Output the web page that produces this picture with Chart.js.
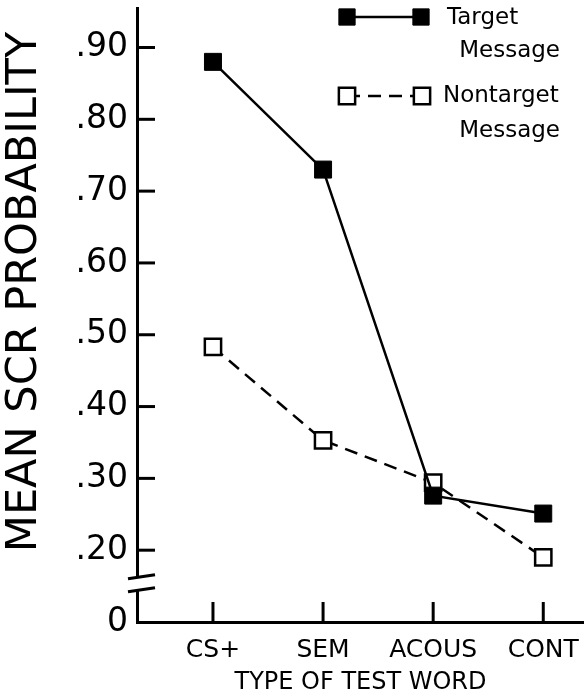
<!DOCTYPE html>
<html>
<head>
<meta charset="utf-8">
<script src="https://cdn.jsdelivr.net/npm/chart.js@4.4.1/dist/chart.umd.min.js"></script>
<style>
  html, body { margin: 0; padding: 0; background: #fff; }
</style>
</head>
<body>
<canvas id="chart" width="584" height="699"></canvas>
<script>
// ---- datos ----
const categories = ['CS+', 'SEM', 'ACOUS', 'CONT'];
const targetValues = [0.88, 0.73, 0.276, 0.251];
const nontargetValues = [0.483, 0.353, 0.294, 0.19];

// el eje está cortado: el "0" se dibuja donde iría 0.10
const yTickValues = [0.1, 0.2, 0.3, 0.4, 0.5, 0.6, 0.7, 0.8, 0.9];
const yTickLabels = ['0', '.20', '.30', '.40', '.50', '.60', '.70', '.80', '.90'];

const yTitle = 'MEAN SCR PROBABILITY';
const xTitle = 'TYPE OF TEST WORD';
const legendText = [['Target', 'Message'], ['Nontarget', 'Message']];

const FONT = 'DejaVu Sans';

/**
 * Marcas hacia adentro, corte del eje, título Y y leyenda
 */
const decorPlugin = {
    id: 'decor',
    afterDraw(chart) {
        const ctx = chart.ctx;
        const xs = chart.scales.x;
        const ys = chart.scales.y;
        const left = chart.chartArea.left;
        const bottom = chart.chartArea.bottom;

        ctx.save();
        ctx.strokeStyle = '#000';
        ctx.lineWidth = 3;
        ctx.lineCap = 'butt';

        // ticks del eje Y (hacia la derecha)
        yTickValues.slice(1).forEach(v => {
            const y = ys.getPixelForValue(v);
            ctx.beginPath();
            ctx.moveTo(left, y);
            ctx.lineTo(left + 18, y);
            ctx.stroke();
        });

        // ticks del eje X (hacia arriba)
        categories.forEach((c, i) => {
            const x = xs.getPixelForValue(i);
            ctx.beginPath();
            ctx.moveTo(x, bottom);
            ctx.lineTo(x, bottom - 20);
            ctx.stroke();
        });

        // corte del eje
        const yA = ys.getPixelForValue(0.163);
        const yB = ys.getPixelForValue(0.145);
        ctx.fillStyle = '#fff';
        ctx.fillRect(left - 4, yA, 8, yB - yA);
        [yA, yB].forEach(y => {
            ctx.beginPath();
            ctx.moveTo(left - 9, y + 2);
            ctx.lineTo(left + 18, y - 2);
            ctx.stroke();
        });

        // título Y
        ctx.fillStyle = '#000';
        ctx.font = `43px "${FONT}"`;
        ctx.textAlign = 'center';
        ctx.textBaseline = 'middle';
        ctx.translate(25, 292);
        ctx.rotate(-Math.PI / 2);
        ctx.fillText(yTitle, 0, 0);
        ctx.restore();

        // leyenda
        const rows = [
            { y: 17, x1: 347, x2: 421, t1: [447, 18], t2: [560, 51] },
            { y: 96, x1: 347, x2: 422, t1: [443, 96], t2: [560, 131] }
        ];
        chart.data.datasets.forEach((ds, i) => {
            const r = rows[i];
            ctx.save();
            ctx.strokeStyle = ds.borderColor;
            ctx.lineWidth = ds.borderWidth;
            ctx.setLineDash(ds.borderDash || []);
            ctx.beginPath();
            ctx.moveTo(r.x1, r.y);
            ctx.lineTo(r.x2, r.y);
            ctx.stroke();
            ctx.setLineDash([]);
            ctx.fillStyle = ds.pointBackgroundColor;
            ctx.strokeStyle = ds.pointBorderColor;
            const opts = { pointStyle: 'rect', radius: 11.5, rotation: 0, borderWidth: ds.pointBorderWidth };
            ctx.lineWidth = ds.pointBorderWidth;
            Chart.helpers.drawPoint(ctx, opts, r.x1, r.y);
            Chart.helpers.drawPoint(ctx, opts, r.x2, r.y);

            ctx.fillStyle = '#000';
            ctx.font = `23px "${FONT}"`;
            ctx.textBaseline = 'middle';
            ctx.textAlign = 'left';
            ctx.fillText(legendText[i][0], r.t1[0], r.t1[1]);
            ctx.textAlign = 'right';
            ctx.fillText(legendText[i][1], r.t2[0], r.t2[1]);
            ctx.restore();
        });
    }
};

const ctx = document.getElementById('chart').getContext('2d');

new Chart(ctx, {
    type: 'line',
    data: {
        datasets: [{
            label: 'Target Message',
            data: targetValues.map((v, i) => ({ x: i, y: v })),
            borderColor: '#000',
            borderWidth: 2.5,
            pointStyle: 'rect',
            pointRadius: 12,
            pointBackgroundColor: '#000',
            pointBorderColor: '#000',
            pointBorderWidth: 1,
            tension: 0
        }, {
            label: 'Nontarget Message',
            data: nontargetValues.map((v, i) => ({ x: i, y: v })),
            borderColor: '#000',
            borderWidth: 2.5,
            borderDash: [13, 8],
            pointStyle: 'rect',
            pointRadius: 11.5,
            pointBackgroundColor: '#fff',
            pointBorderColor: '#000',
            pointBorderWidth: 2.5,
            tension: 0
        }]
    },
    options: {
        responsive: false,
        animation: false,
        layout: { autoPadding: false, padding: { top: 8, right: 0, left: 0, bottom: 0 } },
        plugins: {
            legend: { display: false },
            tooltip: { enabled: false }
        },
        scales: {
            x: {
                type: 'linear',
                min: -0.69,
                max: 3.37,
                afterBuildTicks: s => { s.ticks = categories.map((c, i) => ({ value: i })); },
                afterFit: s => { s.height = 77; s.paddingLeft = 0; s.paddingRight = 0; },
                grid: { drawOnChartArea: false, drawTicks: false },
                border: { display: true, color: '#000', width: 3 },
                ticks: {
                    color: '#000',
                    padding: 13,
                    maxRotation: 0,
                    autoSkip: false,
                    font: { family: FONT, size: 25 },
                    callback: v => categories[v]
                },
                title: {
                    display: true,
                    text: xTitle,
                    color: '#000',
                    font: { family: FONT, size: 24 },
                    padding: { top: 0, bottom: 2 }
                }
            },
            y: {
                type: 'linear',
                min: 0.1,
                max: 0.955,
                afterBuildTicks: s => { s.ticks = yTickValues.map(v => ({ value: v })); },
                afterFit: s => { s.width = 137; s.paddingTop = 0; s.paddingBottom = 0; },
                grid: { drawOnChartArea: false, drawTicks: false },
                border: { display: true, color: '#000', width: 3 },
                ticks: {
                    color: '#000',
                    padding: 9,
                    autoSkip: false,
                    font: { family: FONT, size: 33 },
                    callback: v => yTickLabels[yTickValues.findIndex(t => Math.abs(t - v) < 1e-6)]
                }
            }
        }
    },
    plugins: [decorPlugin]
});
</script>
</body>
</html>
